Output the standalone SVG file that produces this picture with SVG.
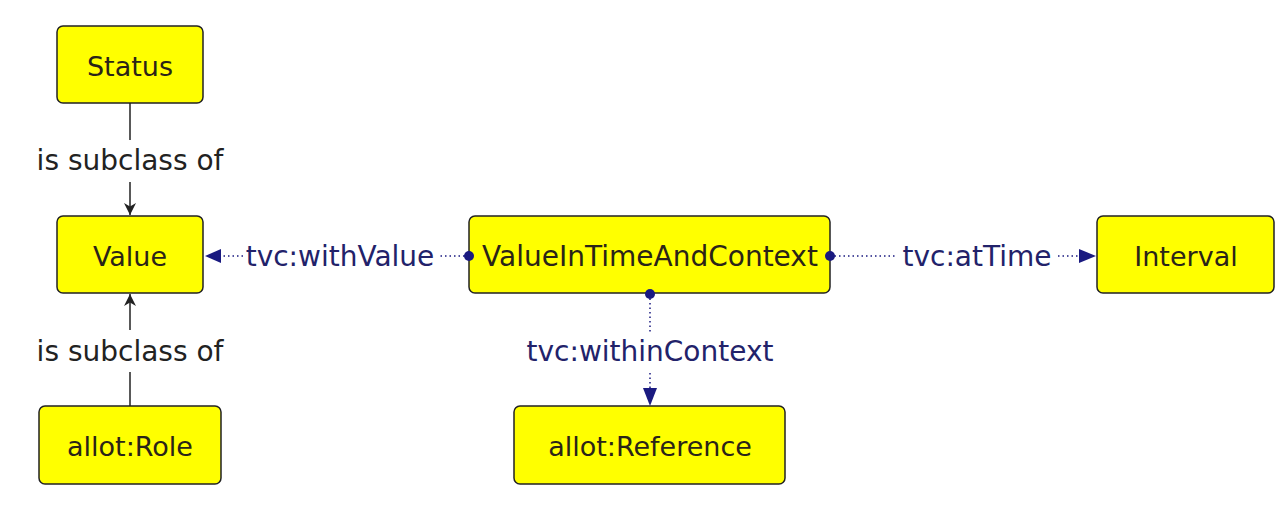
<svg xmlns="http://www.w3.org/2000/svg" width="1275" height="506" viewBox="0 0 1275 506">
<defs>
<style>
.node rect{fill:#ffff00;stroke:#222;stroke-width:1.5}
.node text{font-family:"DejaVu Sans",sans-serif;font-size:27px;fill:#2a2418;text-anchor:middle;dominant-baseline:central}
.lbl{font-family:"DejaVu Sans",sans-serif;font-size:28px;text-anchor:middle;dominant-baseline:central}
.sub{fill:#222}
.prop{fill:#22226a}
.solid{stroke:#222;stroke-width:1.5;fill:none}
.dot{stroke:#1a1a80;stroke-width:1.5;fill:none;stroke-dasharray:1.5 3}
.bl{fill:#1a1a80}
</style>
<marker id="ah" viewBox="0 0 10 10" refX="10" refY="5" markerWidth="12" markerHeight="12" markerUnits="userSpaceOnUse" orient="auto">
<path d="M0,0 L10,5 L0,10 L3,5 Z" fill="#222"/>
</marker>
</defs>
<rect width="1275" height="506" fill="#fff"/>
<g id="status" class="node"><rect x="57" y="26" width="146" height="77" rx="6"/><text x="130" y="66">Status</text></g>
<g id="value" class="node"><rect x="57" y="216" width="146" height="77" rx="6"/><text x="130" y="256">Value</text></g>
<g id="role" class="node"><rect x="39" y="406" width="182" height="78" rx="6"/><text x="130" y="446">allot:Role</text></g>
<g id="vitac" class="node"><rect x="469" y="216" width="361" height="77" rx="6"/><text x="650" y="256" style="font-size:28px">ValueInTimeAndContext</text></g>
<g id="interval" class="node"><rect x="1097" y="216" width="177" height="77" rx="6"/><text x="1186" y="256">Interval</text></g>
<g id="reference" class="node"><rect x="514" y="406" width="271" height="78" rx="6"/><text x="650" y="446">allot:Reference</text></g>
<g id="connectors">
<line class="solid" x1="130" y1="103" x2="130" y2="140"/>
<line class="solid" x1="130" y1="182" x2="130" y2="215" marker-end="url(#ah)"/>
<line class="solid" x1="130" y1="406" x2="130" y2="372"/>
<line class="solid" x1="130" y1="330" x2="130" y2="294" marker-end="url(#ah)"/>
<text class="lbl sub" x="130" y="160">is subclass of</text>
<text class="lbl sub" x="130" y="351">is subclass of</text>
<line class="dot" x1="469" y1="256" x2="438" y2="256"/>
<line class="dot" x1="243" y1="256" x2="220" y2="256"/>
<path class="bl" d="M205,256 L221,249 L221,263 Z"/>
<circle class="bl" cx="469" cy="256" r="5"/>
<text class="lbl prop" x="340" y="256">tvc:withValue</text>
<line class="dot" x1="830" y1="256" x2="896" y2="256"/>
<line class="dot" x1="1058" y1="256" x2="1078" y2="256"/>
<path class="bl" d="M1096,256 L1079,249 L1079,263 Z"/>
<circle class="bl" cx="830" cy="256" r="5"/>
<text class="lbl prop" x="977" y="256">tvc:atTime</text>
<line class="dot" x1="650" y1="294" x2="650" y2="332"/>
<line class="dot" x1="650" y1="373" x2="650" y2="388"/>
<path class="bl" d="M650,406 L643,388 L657,388 Z"/>
<circle class="bl" cx="650" cy="294" r="5"/>
<text class="lbl prop" x="650" y="351">tvc:withinContext</text>
</g>
</svg>
